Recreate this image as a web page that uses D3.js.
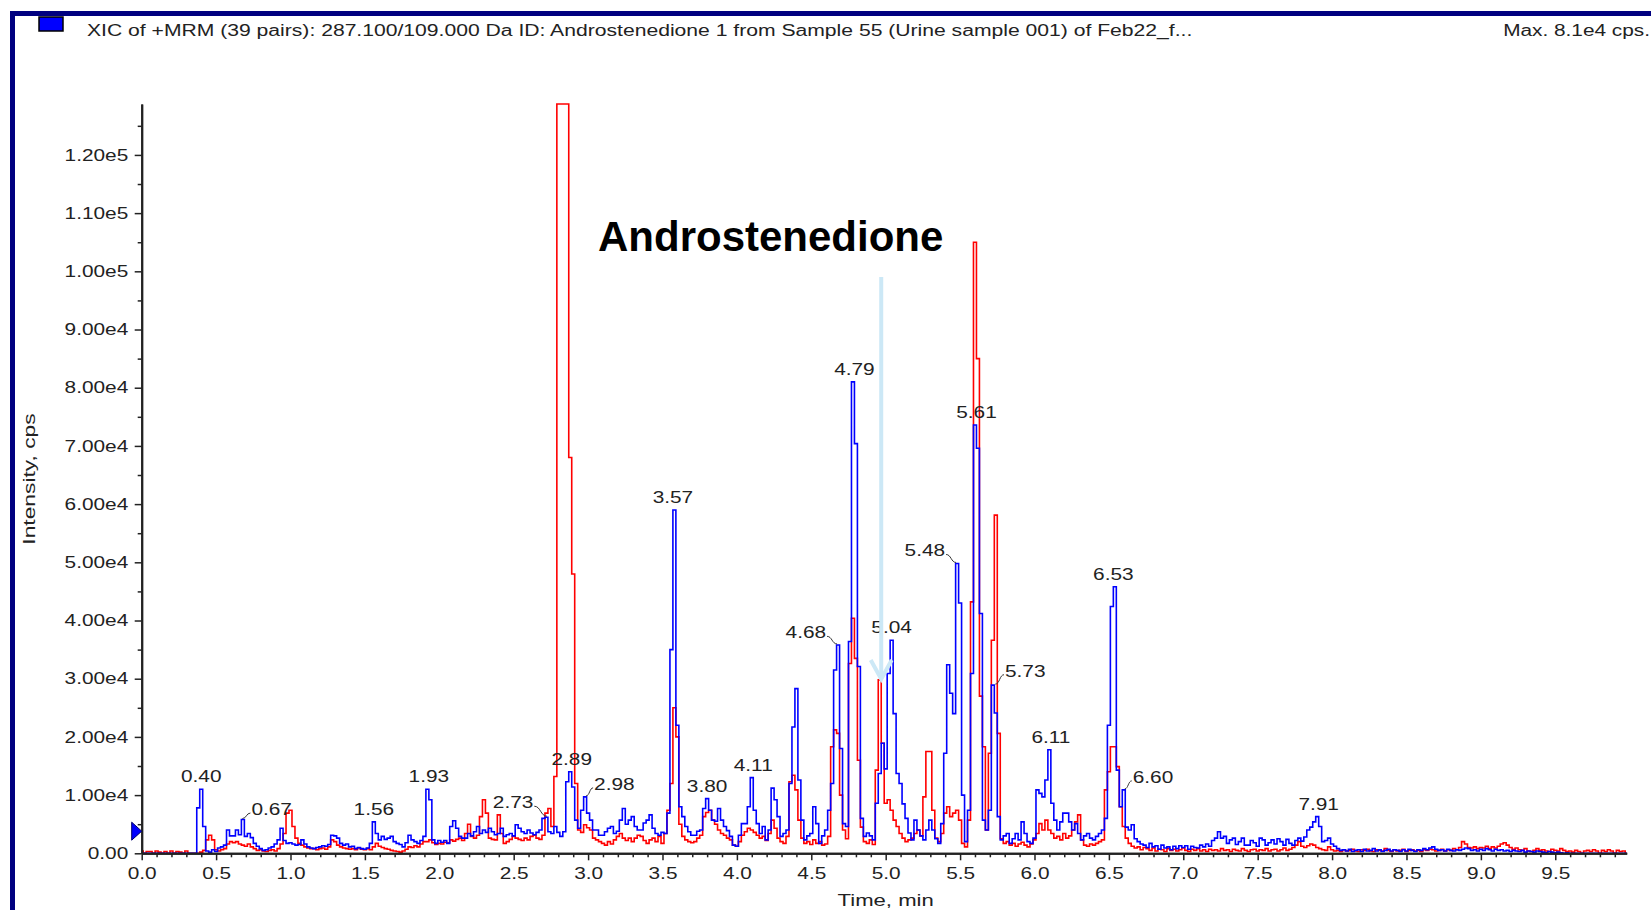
<!DOCTYPE html>
<html>
<head>
<meta charset="utf-8">
<script src="https://cdn.jsdelivr.net/npm/d3@7"></script>
<style>
  html, body { margin: 0; padding: 0; background: #fff; }
  svg { display: block; }
  text { font-family: "Liberation Sans", Arial, sans-serif; }
</style>
</head>
<body>
<svg id="chart" width="1651" height="910"></svg>
<script>
// ---- XIC data: one intensity per scan cycle, in kcps ----
const cycleTime = 0.02; // minutes between successive cycles

// Trace 1 (blue) – 287.100/109.000 Da
const blueTrace = [
  0,0,0,0,0,0,0,0,0,0,0,0,0,0,0,0,0,0,0,7.8,11.0,4.6,0.4,0.2,0.6,
  0.3,0.9,1.1,1.4,4.0,3.0,3.0,4.0,3.2,5.8,2.9,3.4,2.7,1.7,1.2,0.8,0.5,0.6,0.9,1.1,1.6,2.3,4.3,2.2,1.7,
  1.8,1.6,1.4,1.5,2.3,1.6,1.1,0.9,0.8,1.0,1.1,1.3,1.2,1.5,3.1,3.0,2.6,1.7,1.4,1.6,1.1,1.2,0.8,1.0,0.8,
  0.7,0.9,1.7,5.4,3.4,2.3,2.9,2.4,2.6,2.9,2.0,1.7,1.5,1.1,1.8,3.1,2.3,2.0,1.7,2.2,2.9,11.0,9.2,2.3,1.7,
  2.2,1.9,2.2,1.7,4.6,5.6,4.3,2.9,2.6,2.6,3.4,3.0,3.7,4.6,3.4,4.0,3.6,4.3,3.7,3.2,3.4,4.3,2.9,3.2,3.4,
  3.0,4.9,4.3,3.7,3.4,4.0,3.5,3.2,3.6,4.0,6.0,6.2,3.7,3.4,4.6,3.6,2.9,3.7,12.3,14.0,11.4,5.7,4.3,7.4,9.7,
  6.9,5.7,4.0,4.0,3.1,3.1,3.7,4.3,4.6,3.4,3.8,5.7,7.7,5.0,5.7,6.3,4.6,4.0,4.0,5.2,5.7,6.6,4.3,3.4,3.1,
  3.6,3.4,6.9,35,59,22,8.0,6.3,4.6,3.7,3.1,3.1,3.8,4.0,7.7,9.4,7.4,5.7,5.5,7.7,5.7,4.6,3.9,2.9,1.4,
  1.2,3.1,5.1,5.1,8.0,13.0,7.4,5.1,3.4,4.6,2.3,4.0,11.2,9.2,6.3,2.9,3.4,4.0,12.0,21.7,28.3,12.6,5.7,2.3,3.0,
  3.4,8.0,5.1,1.7,3.0,4.0,7.4,12.0,31.5,35.8,18.0,5.1,4.6,36.4,81.0,70.4,32.1,6.0,2.9,3.5,3.0,2.3,8.6,13.7,18.9,
  14.5,30.9,36.6,24.0,13.7,12.0,8.5,6.0,3.5,2.3,5.7,4.0,3.0,2.3,4.0,5.7,4.0,2.5,1.7,5.1,17.2,32.4,27.5,24.0,49.8,
  43.0,10.0,2.0,7.4,30.9,73.6,69.6,41.2,5.7,4.0,7.4,28.9,24.1,6.3,2.3,3.0,3.4,1.7,2.5,3.4,2.3,5.4,3.4,2.0,1.7,
  2.6,10.9,10.3,9.7,12.6,17.8,8.6,5.7,4.0,5.4,6.9,6.9,5.4,4.0,5.1,3.4,2.3,3.0,3.4,2.6,2.3,2.9,3.4,4.0,6.0,
  22.0,42.4,45.8,14.3,8.0,10.9,4.5,4.0,4.9,2.5,2.0,1.6,1.4,1.0,1.7,1.1,1.3,0.7,1.4,0.9,1.1,0.6,1.2,0.8,1.3,
  1.0,1.3,0.7,1.2,1.0,0.9,1.4,1.1,1.6,1.2,2.2,2.6,3.7,2.6,2.9,1.7,2.3,2.6,1.5,2.0,2.6,1.4,1.4,2.2,1.8,
  1.2,2.6,2.3,1.4,1.8,2.3,1.6,2.5,2.0,1.4,2.4,1.7,1.4,2.2,2.6,2.1,2.8,4.0,4.5,5.4,6.3,4.6,2.0,2.2,2.6,
  1.6,1.2,0.8,0.5,0.6,0.4,0.7,0.3,0.5,0.6,0.3,0.7,0.4,0.5,0.8,0.4,0.6,0.3,0.5,0.7,0.4,0.6,0.5,0.3,0.6,
  0.4,0.7,0.5,0.3,0.6,0.5,0.8,0.6,0.9,1.1,0.7,0.5,0.6,0.4,0.7,0.5,0.4,0.6,0.5,0.7,0.9,0.8,0.5,0.6,0.4,
  0.7,0.5,0.8,0.6,0.4,0.7,0.5,0.6,0.4,0.5,0.3,0.5,0.4,0.3,0.5,0.2,0.4,0.3,0.2,0.4,0.3,0.2,0.1,0.3,0.2,
  0.1,0.2,0.1,0,0.1,0,0,0,0,0,0,0,0,0,0,0,0,0,0,0,0,0,0,0,0
];

// Trace 2 (red) – second transition of the same run
const redTrace = [
  0.4,0,0.3,0.3,0,0.4,0.2,0,0.3,0,0.4,0,0.3,0.2,0,0.4,0,0,0,0,0.2,0.5,2.3,3.1,2.3,
  0.6,0.4,0.6,0.8,1.6,2.0,1.8,2.0,1.6,1.4,1.2,1.6,1.1,0.8,0.5,0.6,0.4,0.3,0.5,0.6,0.4,0.8,1.6,3.4,6.9,
  7.4,4.6,2.6,1.7,1.4,1.1,0.9,0.8,0.8,0.6,0.8,0.9,0.7,1.1,2.3,2.0,1.4,1.1,0.9,0.8,0.7,0.8,0.6,0.9,0.7,
  0.6,0.8,0.6,1.1,1.7,1.2,1.0,0.8,0.7,0.5,0.4,0.3,0.2,0.4,0.7,1.1,1.0,1.3,1.1,1.6,2.0,2.0,2.3,1.8,1.5,
  1.7,1.6,1.9,1.8,2.3,2.1,2.4,2.6,2.2,3.4,5.0,2.9,2.6,3.1,6.3,9.2,6.9,2.6,2.4,2.3,6.6,3.4,1.7,2.0,2.4,
  2.9,2.6,2.4,2.2,2.6,2.3,2.9,3.1,2.6,2.4,3.1,6.9,7.7,4.6,13.2,150,150,150,150,68,48,12,4.0,3.6,4.9,
  4.4,4.0,2.6,2.3,2.0,1.7,1.4,2.0,1.6,2.3,2.9,3.4,2.6,2.2,2.6,2.0,2.6,3.1,2.9,2.2,1.7,2.3,2.6,2.0,2.9,
  1.7,3.4,7.4,12.0,25.0,20.0,5.0,2.9,2.3,2.0,1.8,2.0,2.6,3.1,6.3,7.0,7.4,5.7,5.0,4.0,3.4,3.1,2.6,2.3,1.4,
  1.2,2.0,3.1,3.7,4.3,4.0,3.6,3.1,2.6,2.9,2.2,3.4,5.7,4.3,2.6,2.0,1.7,2.9,12.3,13.4,10.9,5.7,2.6,1.7,2.0,
  1.5,2.3,1.7,2.0,1.4,1.6,2.9,18.3,21.2,20.6,10.0,4.0,2.5,32.6,40.4,33.5,16.0,4.5,2.0,1.7,2.3,1.5,14.3,29.8,18.9,
  8.6,9.2,7.4,5.7,4.6,3.4,2.6,2.0,2.3,2.6,3.4,4.0,3.0,9.7,17.5,17.5,7.4,2.6,2.0,3.4,6.9,8.0,6.3,6.9,7.4,
  5.7,1.7,1.1,5.7,43.2,105,85,27,18.3,4.0,17.2,36.6,58.1,20.6,2.5,1.7,2.0,1.4,1.7,1.2,1.6,1.9,1.4,1.1,1.6,
  2.3,3.4,5.1,4.0,5.7,4.0,3.4,2.6,2.9,2.3,3.4,2.6,3.0,4.0,5.4,6.6,2.3,1.4,1.2,1.6,1.4,1.7,2.0,2.3,10.9,
  14.0,18.3,18.3,14.9,8.0,4.6,2.6,1.7,1.2,0.9,1.1,0.6,1.0,0.8,0.5,0.9,0.4,0.7,0.6,0.3,0.8,0.5,0.7,0.4,0.6,
  0.9,0.5,0.3,0.7,0.5,0.8,0.4,0.6,0.3,0.7,0.5,0.6,0.4,0.8,0.5,0.6,0.3,0.7,0.5,0.4,0.8,0.5,0.3,0.6,0.7,
  0.4,0.6,0.5,0.8,0.4,0.6,0.7,0.4,0.6,0.9,0.5,0.7,1.0,1.4,2.0,1.2,1.0,1.3,1.6,1.4,1.0,0.8,0.6,0.5,1.1,
  0.6,0.4,0.5,0.3,0.6,0.4,0.5,0.7,0.4,0.3,0.6,0.5,0.7,0.4,0.3,0.6,0.5,0.4,0.8,0.5,0.3,0.6,0.4,0.5,0.7,
  0.3,0.5,0.6,0.4,0.5,0.3,0.6,0.5,0.7,0.6,0.4,0.5,0.7,0.4,0.6,0.5,0.8,0.6,1.0,2.0,1.6,1.0,0.9,1.1,0.8,
  1.0,0.9,1.2,0.8,1.1,0.9,1.2,1.6,1.8,1.4,1.0,0.7,0.9,0.6,0.5,0.8,0.4,0.3,0.5,0.8,0.5,0.6,0.4,0.3,0.7,
  0.5,0.4,0.8,0.5,0.3,0.4,0.2,0.5,0.3,0,0.4,0.5,0.3,0.6,0.4,0,0.5,0.3,0.6,0.4,0,0.5,0.3,0.4,0
];

// Retention times annotated by the peak finder (min)
const peakLabels = ["0.40","0.67","1.56","1.93","2.73","2.89","2.98","3.57","3.80","4.11",
                    "4.68","4.79","5.04","5.48","5.61","5.73","6.11","6.53","6.60","7.91"];

// Axis ticks
const xTickLabels = ["0.0","0.5","1.0","1.5","2.0","2.5","3.0","3.5","4.0","4.5",
                     "5.0","5.5","6.0","6.5","7.0","7.5","8.0","8.5","9.0","9.5"];
const yTickLabels = ["0.00","1.00e4","2.00e4","3.00e4","4.00e4","5.00e4","6.00e4",
                     "7.00e4","8.00e4","9.00e4","1.00e5","1.10e5","1.20e5"];

const headerText = "XIC of +MRM (39 pairs): 287.100/109.000 Da ID: Androstenedione 1 from Sample 55 (Urine sample 001) of Feb22_f...";
const maxText = "Max. 8.1e4 cps.";
const compoundName = "Androstenedione";
const compoundTime = 4.97;
const thresholdLevel = 3800; // cps, baseline marker on the intensity axis

// ---- layout ----
const svg = d3.select("#chart");
const plotLeft = 141.7, plotRight = 1626.7, plotTop = 104, plotBottom = 853.3;
const textStretch = 1.3;   // instrument fonts render wide
const ink = "#222";

const x = d3.scaleLinear().domain([0, 9.98]).range([plotLeft, plotRight]);
const y = d3.scaleLinear().domain([0, 128750]).range([plotBottom, plotTop]).clamp(true);

function stretch(sel, k) {
  sel.each(function () {
    const w = this.getComputedTextLength();
    if (w > 0) {
      this.setAttribute("textLength", (w * k).toFixed(1));
      this.setAttribute("lengthAdjust", "spacingAndGlyphs");
    }
  });
}

// window frame
svg.append("rect").attr("x", 12.5).attr("y", 13.5).attr("width", 1700).attr("height", 1000)
  .attr("fill", "none").attr("stroke", "#000080").attr("stroke-width", 5);

// trace colour key
svg.append("rect").attr("x", 39).attr("y", 17).attr("width", 24).attr("height", 14)
  .attr("fill", "#0000ff").attr("stroke", "#000").attr("stroke-width", 1.5);

const header = svg.append("text").attr("x", 87).attr("y", 36)
  .attr("font-size", 16).attr("fill", ink).text(headerText);
stretch(header, 1.32);

const maxLabel = svg.append("text").attr("x", 1650).attr("y", 36).attr("text-anchor", "end")
  .attr("font-size", 16).attr("fill", ink).text(maxText);
stretch(maxLabel, textStretch);

// ---- traces ----
const line = d3.line()
  .x((d, i) => x(i * cycleTime))
  .y(d => y(d * 1000))
  .curve(d3.curveStep);

svg.append("path").datum(redTrace).attr("d", line)
  .attr("fill", "none").attr("stroke", "#ff0000").attr("stroke-width", 1.6);
svg.append("path").datum(blueTrace).attr("d", line)
  .attr("fill", "none").attr("stroke", "#0000ff").attr("stroke-width", 1.6);

// ---- axes ----
const yMajor = yTickLabels.map((_, i) => i * 10000);
const yMinor = d3.range(5000, 128750, 10000);
const xMajor = xTickLabels.map(Number);
const xMinor = d3.range(0, 100).map(i => i / 10).filter(v => v <= 9.98 && Math.round(v * 10) % 5 !== 0);

function styleAxis(g) {
  g.select(".domain").attr("stroke", ink).attr("stroke-width", 2);
  g.selectAll(".tick line").attr("stroke", ink).attr("stroke-width", 1.5);
  g.selectAll(".tick text").attr("fill", ink).attr("font-size", 16)
    .attr("font-family", "'Liberation Sans', Arial, sans-serif");
}

svg.append("g").attr("transform", `translate(${plotLeft},0)`)
  .call(d3.axisLeft(y).tickValues(yMinor).tickSize(4).tickSizeOuter(0).tickFormat(""))
  .call(styleAxis);
const yAxisG = svg.append("g").attr("transform", `translate(${plotLeft},0)`)
  .call(d3.axisLeft(y).tickValues(yMajor).tickSize(7).tickPadding(6.5).tickSizeOuter(0)
    .tickFormat((d, i) => yTickLabels[i]))
  .call(styleAxis);
stretch(yAxisG.selectAll(".tick text"), textStretch);

svg.append("g").attr("transform", `translate(0,${plotBottom})`)
  .call(d3.axisBottom(x).tickValues(xMinor).tickSize(4).tickSizeOuter(0).tickFormat(""))
  .call(styleAxis);
const xAxisG = svg.append("g").attr("transform", `translate(0,${plotBottom})`)
  .call(d3.axisBottom(x).tickValues(xMajor).tickSize(7).tickPadding(7).tickSizeOuter(0)
    .tickFormat((d, i) => xTickLabels[i]))
  .call(styleAxis);
stretch(xAxisG.selectAll(".tick text"), textStretch);

// axis titles
const xTitle = svg.append("text").attr("x", x(5.0)).attr("y", 906).attr("text-anchor", "middle")
  .attr("font-size", 17).attr("fill", ink).text("Time, min");
stretch(xTitle, textStretch);
const yTitle = svg.append("text").attr("transform", "translate(35,479) rotate(-90)")
  .attr("text-anchor", "middle").attr("font-size", 17).attr("fill", ink).text("Intensity, cps");
stretch(yTitle, 1.34);

// threshold marker on the intensity axis
const thrY = y(thresholdLevel);
svg.append("path")
  .attr("d", `M${plotLeft - 10},${thrY - 9}L${plotLeft},${thrY}L${plotLeft - 10},${thrY + 9}Z`)
  .attr("fill", "#0000ff").attr("stroke", "#00006a").attr("stroke-width", 1);

// ---- peak annotations ----
const leaderLayout = {
  "0.67": { dx: 10, dy: -4.5, anchor: "start" },
  "2.73": { dx: -14.6, dy: -9, anchor: "end" },
  "2.98": { dx: 9, dy: -7, anchor: "start" },
  "4.68": { dx: -12, dy: -6.6, anchor: "end" },
  "5.48": { dx: -12, dy: -7, anchor: "end" },
  "5.73": { dx: 10.7, dy: -8.4, anchor: "start" },
  "6.60": { dx: 9, dy: -7, anchor: "start" }
};

function apexOf(t) {
  let best = 0;
  blueTrace.forEach((v, i) => {
    if (Math.abs(i * cycleTime - t) <= 0.021 && v > best) best = v;
  });
  return best * 1000;
}

const labelG = svg.append("g");
peakLabels.forEach(lbl => {
  const t = +lbl;
  const px = x(t), py = y(apexOf(t));
  const lay = leaderLayout[lbl];
  if (lay) {
    const lx = px + lay.dx, ly = py + lay.dy;
    const sgn = lay.anchor === "start" ? 1 : -1;
    const x0 = px + sgn * 1, y0 = py - 1;
    const x1 = lx - sgn * 1, y1 = ly - 2;
    const xm = (x0 + x1) / 2;
    labelG.append("path")
      .attr("d", `M${x0},${y0}C${xm},${y0} ${xm},${y1} ${x1},${y1}`)
      .attr("fill", "none").attr("stroke", "#333").attr("stroke-width", 1);
    const tx = labelG.append("text").attr("x", lx).attr("y", ly)
      .attr("text-anchor", lay.anchor).attr("font-size", 16).attr("fill", ink).text(lbl);
    stretch(tx, textStretch);
  } else {
    const tx = labelG.append("text").attr("x", px).attr("y", py - 7)
      .attr("text-anchor", "middle").attr("font-size", 16).attr("fill", ink).text(lbl);
    stretch(tx, textStretch);
  }
});

// ---- compound call-out ----
svg.append("text").attr("x", 598).attr("y", 250.7)
  .attr("font-size", 42).attr("font-weight", "bold").attr("fill", "#000")
  .text(compoundName);

const arrowX = x(compoundTime);
svg.append("line").attr("x1", arrowX).attr("x2", arrowX).attr("y1", 277).attr("y2", 677)
  .attr("stroke", "#cce8f6").attr("stroke-width", 4);
svg.append("path").attr("d", `M${arrowX - 10.5},660L${arrowX},679L${arrowX + 10.5},660`)
  .attr("fill", "none").attr("stroke", "#cce8f6").attr("stroke-width", 4);
</script>
</body>
</html>
